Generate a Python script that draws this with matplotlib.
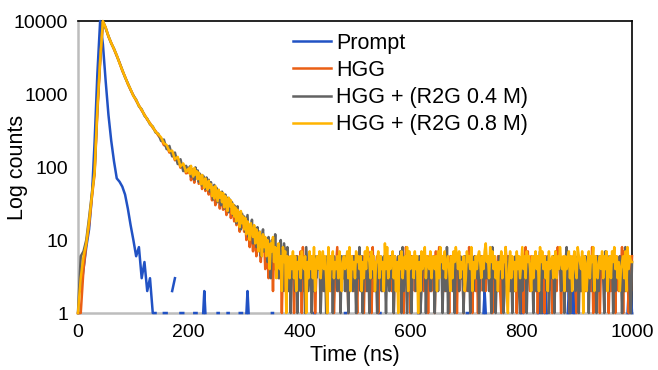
import numpy as np
import matplotlib
matplotlib.use('Agg')
import matplotlib.pyplot as plt
from matplotlib.ticker import FixedLocator, FixedFormatter, NullLocator

plt.rcParams['font.family'] = ['Liberation Sans', 'DejaVu Sans']

# channels: 0-195 ns every 5 ns, 200-1000 ns every 2 ns
t_early = np.arange(0, 200, 5)
t_late = np.arange(200, 1001, 2)

# counts (0 = no count, drawn as a gap)
prompt_early = [0, 2, 4, 8, 14, 38, 220, 1900, 10000, 4800,
                1500, 520, 230, 120, 70, 63, 54, 42, 27, 16,
                10, 6, 8, 3, 5, 2, 3, 1, 1, 0,
                0, 1, 1, 0, 2, 3, 0, 1, 1, 0]
prompt_late = ("0000011100" "0001210000" "0000001100" "0000011000" "0000001110"
               "0012100000" "0000000000" "0000011000" "0000000000" "0000000000"
               "0000000000" "0001100000" "0000000000" "0000000000" "0110000000"
               "0000000000" "0000000000" "0011000000" "0000000000" "0000000000"
               "0000000110" "0000000000" "0000000000" "0000000000" "0000000000"
               "0110000000" "0000001210" "0000000000" "0000000000" "0000000000"
               "1212000000" "0000012121" "2121000000" "0000000000" "0012121210"
               "0000000000" "0000000000" "0000000000" "0000000000" "0000001212"
               "1")

hgg_early = [1, 1, 4, 9, 16, 38, 80, 560, 2700, 9800,
             8200, 6100, 5050, 4100, 3350, 2700, 2080, 1730, 1370, 1140,
             960, 810, 700, 595, 525, 445, 400, 345, 312, 270,
             246, 200, 194, 158, 160, 124, 130, 98, 108, 82]
hgg_mid = [84, 94, 66, 87, 76, 61, 90, 70, 80, 59,
           66, 73, 50, 62, 68, 47, 57, 51, 42, 55,
           47, 35, 52, 41, 30, 46, 37, 43, 27, 40,
           36, 26, 39, 30, 22, 34, 27, 31, 20, 28,
           24, 18, 27, 16, 22, 19, 13, 21, 15, 18,
           13, 17, 10, 15, 12, 8, 14, 11, 7, 13,
           10, 6, 12, 8, 11, 5, 9, 7, 10, 4,
           8, 6, 3, 9, 5, 7, 2, 8, 4, 6,
           5, 7, 3, 6, 1, 5, 8, 2, 6, 4]
hgg_tail = ("6253615462" "3718264553" "5626135462" "2564316526" "5135826453"
            "4626153562" "6315542616" "2673518254" "6146325563" "3552616425"
            "5263148553" "1636255416" "5526361642" "3617258463" "6253516642"
            "4516263515" "2638471562" "5152636425" "3645162536" "6215538462"
            "4653261535" "2615847326" "5362516452" "5163625415" "3728461535"
            "6246153652" "1535264625" "6352815364" "4156362541" "5263516426"
            "3817264152" "6")

r2g04_early = [1, 6, 7, 10, 20, 42, 90, 650, 3000, 10000,
               7900, 6300, 4950, 4200, 3380, 2680, 2150, 1690, 1410, 1150,
               950, 840, 680, 620, 505, 460, 385, 360, 298, 286,
               228, 238, 176, 195, 140, 158, 110, 128, 88, 104]
r2g04_mid = [88, 102, 74, 93, 82, 67, 99, 77, 90, 63,
             81, 66, 56, 76, 60, 50, 72, 55, 67, 46,
             62, 47, 36, 57, 41, 52, 33, 48, 42, 30,
             46, 35, 27, 42, 32, 38, 24, 36, 28, 33,
             22, 30, 26, 17, 29, 20, 24, 14, 23, 19,
             21, 13, 17, 22, 11, 16, 12, 19, 9, 15,
             12, 8, 15, 10, 13, 6, 11, 14, 7, 10,
             9, 5, 11, 7, 3, 10, 8, 6, 12, 4,
             8, 3, 7, 10, 5, 2, 9, 6, 4, 8]
r2g04_tail = ("2515362614" "5263518425" "5152636451" "3625164536" "1635265163"
              "6264153526" "4153826153" "6261535624" "1536256415" "5263516426"
              "3718265145" "6153625361" "2646153526" "5315626451" "4628153526"
              "1655263416" "6325165264" "3616452536" "5251836142" "6364125536"
              "2515364621" "5263615453" "4165263716" "6352614536" "1536562451"
              "5826135452" "3615264563" "5153626416" "2646317562" "6361525436"
              "4152836521" "5")

r2g08_early = [1, 3, 6, 9, 18, 40, 85, 620, 2900, 10000,
               8100, 6200, 5000, 4150, 3400, 2650, 2120, 1710, 1390, 1160,
               940, 830, 690, 610, 515, 455, 392, 355, 305, 281,
               255, 212, 200, 165, 168, 128, 138, 102, 112, 86]
r2g08_mid = [96, 80, 104, 83, 74, 97, 79, 88, 68, 84,
             72, 58, 78, 61, 52, 70, 58, 49, 65, 52,
             58, 40, 53, 37, 55, 43, 34, 49, 38, 45,
             33, 44, 28, 40, 31, 25, 38, 29, 35, 23,
             31, 21, 28, 18, 26, 22, 15, 25, 17, 21,
             14, 20, 12, 18, 15, 10, 17, 13, 11, 16,
             9, 14, 11, 7, 13, 10, 6, 12, 8, 11,
             6, 10, 8, 4, 9, 7, 11, 5, 8, 3,
             7, 9, 4, 6, 2, 8, 5, 7, 1, 6]
r2g08_tail = ("5364736254" "6375461537" "4638256473" "5746318264" "7354637425"
              "6457382645" "3756462537" "4865374625" "5736452948" "3645736251"
              "6473564827" "4563746152" "7458365473" "5646273856" "4735642637"
              "5864735462" "3756482536" "4675364795" "6385746352" "5473658214"
              "7364527463" "5846375642" "6357462857" "4635274563" "5736485462"
              "6457362574" "3865471652" "4736582643" "5647364725" "6375846352"
              "4563728465" "5")

labels = ['Prompt', 'HGG', 'HGG + (R2G 0.4 M)', 'HGG + (R2G 0.8 M)']
colors = ['#2152c4', '#ea5f14', '#626262', '#ffb400']

y_ticks = [1, 10, 100, 1000, 10000]
x_ticks = [0, 200, 400, 600, 800, 1000]


def digits(s):
    return [int(c) for c in s]


def as_counts(values):
    c = np.array(values, dtype=float)
    c[c <= 0] = np.nan
    return c


series = [
    prompt_early + digits(prompt_late),
    hgg_early + hgg_mid + digits(hgg_tail),
    r2g04_early + r2g04_mid + digits(r2g04_tail),
    r2g08_early + r2g08_mid + digits(r2g08_tail),
]
t = np.concatenate([t_early, t_late])

fig = plt.figure(figsize=(6.58, 3.70), dpi=100)
ax = fig.add_axes([0.1185, 0.154, 0.842, 0.789])

for counts, label, color in zip(series, labels, colors):
    ax.plot(t, as_counts(counts), color=color, lw=1.8, label=label,
            clip_on=False, zorder=3)

ax.set_yscale('log')
ax.set_xlim(0, 1000)
ax.set_ylim(1, 10000)
ax.yaxis.set_major_locator(FixedLocator(y_ticks))
ax.yaxis.set_major_formatter(FixedFormatter([str(v) for v in y_ticks]))
ax.yaxis.set_minor_locator(NullLocator())
ax.set_xticks(x_ticks)
ax.tick_params(length=0, labelsize=14, colors='black')
ax.tick_params(axis='y', pad=7)
ax.tick_params(axis='x', pad=8)

for side in ['top', 'right']:
    ax.spines[side].set_color('black')
    ax.spines[side].set_linewidth(1.2)
for side in ['left', 'bottom']:
    ax.spines[side].set_color('#bdbdbd')
    ax.spines[side].set_linewidth(1.8)

ax.set_xlabel('Time (ns)', fontsize=15.5, labelpad=3)
ax.set_ylabel('Log counts', fontsize=15.5)
ax.yaxis.set_label_coords(-0.09, 0.5)

leg = ax.legend(loc='upper left', bbox_to_anchor=(293 / 658, 1 - 33 / 370),
                bbox_transform=fig.transFigure, frameon=False, fontsize=15.5,
                handlelength=1.77, handletextpad=0.25, labelspacing=0.28,
                borderpad=0, borderaxespad=0)
for line in leg.get_lines():
    line.set_linewidth(1.8)

fig.savefig('out.png', dpi=100)
